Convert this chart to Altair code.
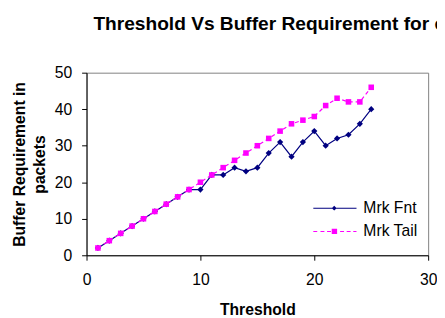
import altair as alt
import pandas as pd

# ---- data ----
threshold = list(range(1, 26))
mrk_fnt = [2, 4, 6, 8, 10, 12, 14, 16, 18, 18, 22, 22, 24, 23, 24, 28, 31, 27, 31, 34, 30, 32, 33, 36, 40]
mrk_tail = [2, 4, 6, 8, 10, 12, 14, 16, 18, 20, 22, 24, 26, 28, 30, 32, 34, 36, 37, 38, 41, 43, 42, 42, 46]
series_names = ["Mrk Fnt", "Mrk Tail"]
series_colors = ["#000080", "#FF00FF"]
x_ticks = [0, 10, 20, 30]
y_ticks = [0, 10, 20, 30, 40, 50]
title_text = "Threshold Vs Buffer Requirement for c"
x_title = "Threshold"
y_title = ["Buffer Requirement in", "packets"]

rows = []
for name, vals in zip(series_names, [mrk_fnt, mrk_tail]):
    for t, v in zip(threshold, vals):
        rows.append({"Threshold": t, "Buffer": v, "Series": name})
df = pd.DataFrame(rows)

FONT = "Liberation Sans"


def rect(x1, x2, h):
    return f"M{x1},{-h}H{x2}V{h}H{x1}Z"


# legend glyphs: line segment with marker (Excel style)
fnt_glyph = rect(-7.6, 1.2, 0.1) + "M-3.84,0L-3.34,-0.5L-2.84,0L-3.34,0.5Z"
tail_glyph = (
    rect(-7.6, -6.8, 0.1)
    + rect(-6.14, -5.34, 0.1)
    + rect(-4.8, -4.0, 0.1)
    + "M-3.85,-0.55H-2.75V0.55H-3.85Z"
    + rect(-2.14, -1.34, 0.1)
    + rect(-0.8, 0.0, 0.1)
    + rect(0.54, 1.2, 0.1)
)

x_enc = alt.X(
    "Threshold:Q",
    scale=alt.Scale(domain=[0, 30], nice=False),
    axis=alt.Axis(values=x_ticks, title=x_title, labelPadding=12, titlePadding=14,
                  labelFlush=False),
)
y_enc = alt.Y(
    "Buffer:Q",
    scale=alt.Scale(domain=[0, 50], nice=False),
    axis=alt.Axis(values=y_ticks, title=y_title, labelPadding=10, titlePadding=7,
                  titleLineHeight=20, labelFlush=False),
)

base = alt.Chart(df)

fnt_line = base.transform_filter(alt.datum.Series == "Mrk Fnt").mark_line(
    color=series_colors[0], strokeWidth=1.2
).encode(x=x_enc, y=y_enc)
fnt_pts = base.transform_filter(alt.datum.Series == "Mrk Fnt").mark_point(
    shape="diamond", filled=True, size=40, color=series_colors[0], opacity=1
).encode(x=x_enc, y=y_enc)
tail_line = base.transform_filter(alt.datum.Series == "Mrk Tail").mark_line(
    color=series_colors[1], strokeWidth=1.2, strokeDash=[4, 3]
).encode(x=x_enc, y=y_enc)
tail_pts = base.transform_filter(alt.datum.Series == "Mrk Tail").mark_point(
    shape="square", filled=True, size=32, color=series_colors[1], opacity=1
).encode(x=x_enc, y=y_enc)

leg = alt.Legend(
    title=None, orient="none", legendX=261, legendY=130, padding=0,
    labelFont=FONT, labelFontSize=16, labelColor="black", labelOffset=5,
    symbolSize=100, symbolStrokeWidth=0, rowPadding=7.7, symbolOpacity=1,
)
legend_layer = base.transform_filter("false").mark_point(filled=True, opacity=1).encode(
    x=x_enc,
    y=y_enc,
    color=alt.Color("Series:N", scale=alt.Scale(domain=series_names, range=series_colors), legend=leg),
    shape=alt.Shape("Series:N", scale=alt.Scale(domain=series_names, range=[fnt_glyph, tail_glyph]), legend=leg),
)

title_layer = alt.Chart(alt.Data(values=[{"t": title_text}])).mark_text(
    align="left", baseline="alphabetic", font=FONT, fontSize=19.5, fontWeight="bold", color="black"
).encode(text="t:N", x=alt.value(7), y=alt.value(-43.5))

chart = (
    alt.layer(fnt_line, fnt_pts, tail_line, tail_pts, legend_layer, title_layer)
    .properties(
        width=348,
        height=186,
        autosize=alt.AutoSizeParams(type="none"),
        padding={"left": 80, "top": 63, "right": 9, "bottom": 61},
        background="white",
    )
    .configure_view(stroke="#808080", strokeWidth=1)
    .configure_axis(
        grid=False, domainColor="black", tickColor="black", tickSize=5,
        labelFont=FONT, labelFontSize=16, labelColor="black",
        titleFont=FONT, titleFontSize=16, titleFontWeight="bold", titleColor="black",
    )
)

chart.save("out.html", embed_options={"renderer": "svg", "actions": False})
